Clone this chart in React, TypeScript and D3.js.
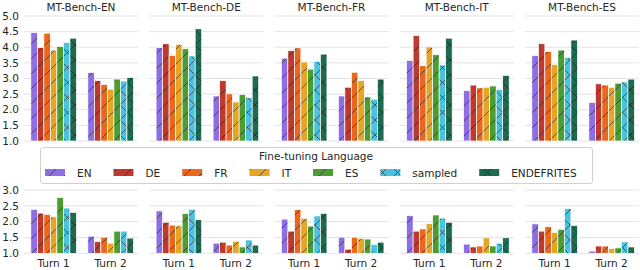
import { useMemo } from "react";
import { scaleLinear } from "d3";

const languages = ["EN", "DE", "FR", "IT", "ES", "sampled", "ENDEFRITES"];
const benchmarks = ["MT-Bench-EN", "MT-Bench-DE", "MT-Bench-FR", "MT-Bench-IT", "MT-Bench-ES"];
const turns = ["Turn 1", "Turn 2"];
const colors = ["#8d6fe3", "#bf3a2e", "#e8681f", "#e5a526", "#4b9c31", "#4ac2e0", "#1d6b52"];
const hatches = ["/", "/", "/", "/", "/", "x", "x"];

// top row, per benchmark, per fine-tuning language
const topTurn1 = [
  [4.47, 3.99, 4.45, 3.91, 4.02, 4.15, 4.29],
  [3.99, 4.11, 3.74, 4.09, 3.95, 3.72, 4.59],
  [3.65, 3.89, 3.98, 3.53, 3.3, 3.55, 3.78],
  [3.58, 4.37, 3.41, 4.01, 3.76, 3.43, 4.29],
  [3.73, 4.11, 3.86, 3.45, 3.91, 3.67, 4.23],
];
const topTurn2 = [
  [3.19, 2.93, 2.81, 2.66, 2.98, 2.92, 3.03],
  [2.44, 2.93, 2.51, 2.25, 2.49, 2.39, 3.08],
  [2.44, 2.72, 3.2, 2.93, 2.41, 2.34, 2.98],
  [2.61, 2.79, 2.7, 2.72, 2.76, 2.65, 3.1],
  [2.23, 2.83, 2.79, 2.72, 2.85, 2.89, 2.98],
];
// bottom row
const bottomTurn1 = [
  [2.39, 2.27, 2.23, 2.15, 2.76, 2.43, 2.29],
  [2.34, 1.98, 1.89, 1.87, 2.26, 2.39, 2.06],
  [2.08, 1.7, 2.38, 2.1, 1.86, 2.18, 2.26],
  [2.19, 1.7, 1.77, 1.94, 2.21, 2.11, 1.98],
  [1.93, 1.7, 1.84, 1.66, 1.76, 2.41, 1.88],
];
const bottomTurn2 = [
  [1.54, 1.37, 1.51, 1.32, 1.7, 1.7, 1.48],
  [1.32, 1.35, 1.26, 1.38, 1.2, 1.42, 1.26],
  [1.51, 1.13, 1.51, 1.47, 1.45, 1.28, 1.35],
  [1.29, 1.2, 1.23, 1.49, 1.23, 1.32, 1.49],
  [1.07, 1.23, 1.23, 1.15, 1.17, 1.36, 1.2],
];
const topTicks = [1.0, 1.5, 2.0, 2.5, 3.0, 3.5, 4.0, 4.5, 5.0];
const bottomTicks = [1.0, 1.5, 2.0, 2.5, 3.0];

const FONT = "DejaVu Sans, sans-serif";
const FS = 10.5;
const W = 640;
const H = 270;
const panelLeft0 = 24;
const panelStep = 125.25;
const panelW = 114;
const HP = 15; // hatch period

function textWidth(s: string) {
  const c = document.createElement("canvas").getContext("2d");
  if (!c) return s.length * 6.5;
  c.font = `${FS}px DejaVu Sans`;
  return c.measureText(s).width;
}

function Row({ t1, t2, y, ticks, showX }: { t1: number[][]; t2: number[][]; y: any; ticks: number[]; showX: boolean }) {
  const bw = 0.8 / languages.length;
  return (
    <g>
      {benchmarks.map((b, p) => {
        const left = panelLeft0 + p * panelStep;
        const x = scaleLinear().domain([-0.52, 1.48]).range([left, left + panelW]);
        const groups = [t1[p], t2[p]];
        return (
          <g key={b}>
            {ticks.map((t) => (
              <line key={t} x1={left} x2={left + panelW} y1={y(t)} y2={y(t)} stroke="#e3e3e3" strokeWidth={1} />
            ))}
            {p === 0 &&
              ticks.map((t) => (
                <text key={t} x={left - 5} y={y(t)} dy="0.35em" textAnchor="end" fontSize={FS} fill="#262626" fontFamily={FONT}>
                  {t.toFixed(1)}
                </text>
              ))}
            {groups.map((vals, g) =>
              vals.map((v, i) => {
                const x0 = x(g - 0.4 + i * bw);
                const x1 = x(g - 0.4 + (i + 1) * bw);
                return (
                  <rect
                    key={`${g}-${i}`}
                    x={x0}
                    y={y(v)}
                    width={x1 - x0}
                    height={y(ticks[0]) - y(v)}
                    fill={`url(#hatch-${i})`}
                    stroke="#ffffff"
                    strokeWidth={0.7}
                  />
                );
              })
            )}
            {showX &&
              turns.map((t, g) => (
                <text key={t} x={x(g)} y={267} textAnchor="middle" fontSize={FS} fill="#262626" fontFamily={FONT}>
                  {t}
                </text>
              ))}
          </g>
        );
      })}
    </g>
  );
}

export default function App() {
  const yTop = scaleLinear().domain([1, 5]).range([141, 16]);
  const yBottom = scaleLinear().domain([1, 3]).range([253.3, 190]);

  const legendItems = useMemo(() => {
    let cx = 45;
    return languages.map((l, i) => {
      const item = { label: l, i, x: cx };
      cx += 20 + 12 + textWidth(l) + 22;
      return item;
    });
  }, []);

  const up = `M0,${HP} L${HP},0 M${-HP / 2},${HP / 2} L${HP / 2},${-HP / 2} M${HP / 2},${HP * 1.5} L${HP * 1.5},${HP / 2}`;
  const down = `M0,0 L${HP},${HP} M${-HP / 2},${HP / 2} L${HP / 2},${HP * 1.5} M${HP / 2},${-HP / 2} L${HP * 1.5},${HP / 2}`;

  return (
    <div style={{ position: "absolute", left: 0, top: 0 }}>
      <svg width={W} height={H} viewBox={`0 0 ${W} ${H}`} style={{ display: "block", background: "#fff" }}>
        <defs>
          {colors.map((c, i) => (
            <pattern key={i} id={`hatch-${i}`} patternUnits="userSpaceOnUse" width={HP} height={HP}>
              <rect width={HP} height={HP} fill={c} />
              <path d={up} stroke="#1a1a1a" strokeOpacity={0.65} strokeWidth={0.9} />
              {hatches[i] === "x" ? <path d={down} stroke="#1a1a1a" strokeOpacity={0.65} strokeWidth={0.9} /> : null}
            </pattern>
          ))}
        </defs>

        {benchmarks.map((b, p) => (
          <text
            key={b}
            x={panelLeft0 + p * panelStep + panelW / 2}
            y={11}
            textAnchor="middle"
            fontSize={FS}
            fill="#262626"
            fontFamily={FONT}
          >
            {b}
          </text>
        ))}

        <Row t1={topTurn1} t2={topTurn2} y={yTop} ticks={topTicks} showX={false} />
        <Row t1={bottomTurn1} t2={bottomTurn2} y={yBottom} ticks={bottomTicks} showX={true} />

        <g>
          <rect x={40.5} y={147.5} width={552} height={36} rx={2.5} fill="#ffffff" fillOpacity={0.85} stroke="#d0d0d0" strokeWidth={1} />
          <text x={316} y={160} textAnchor="middle" fontSize={FS} fill="#262626" fontFamily={FONT}>
            Fine-tuning Language
          </text>
          {legendItems.map((it) => (
            <g key={it.label}>
              <rect x={it.x} y={169} width={20} height={7} fill={`url(#hatch-${it.i})`} />
              <text x={it.x + 32} y={177} fontSize={FS} fill="#262626" fontFamily={FONT}>
                {it.label}
              </text>
            </g>
          ))}
        </g>
      </svg>
    </div>
  );
}
